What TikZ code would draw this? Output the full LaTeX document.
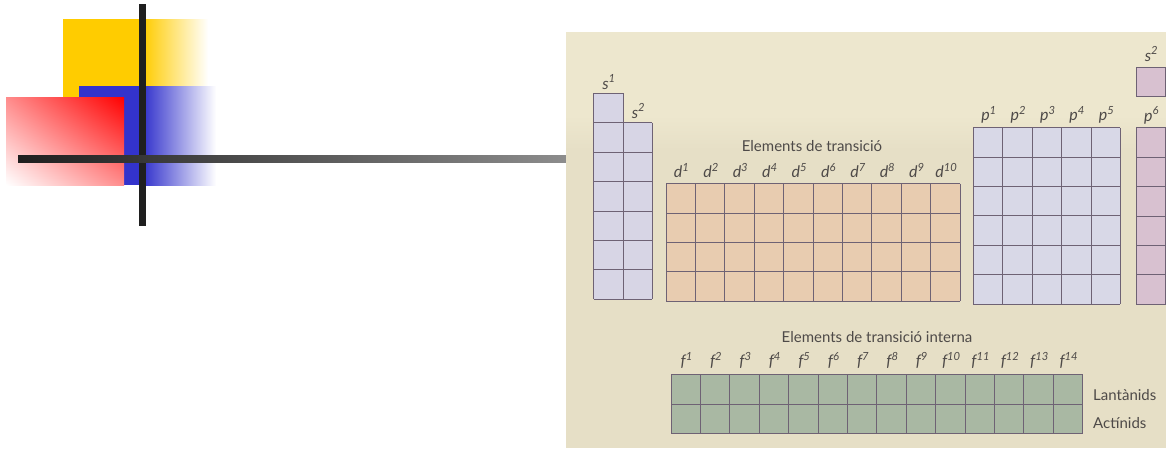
\documentclass[tikz,border=0pt]{standalone}
\usepackage{fontspec}
\setmainfont{Lato}
\usetikzlibrary{positioning,shadings}
\definecolor{scan}{HTML}{E6DFC6}
\definecolor{scantop}{HTML}{EDE7CE}
\definecolor{sblk}{HTML}{D7D5E5}
\definecolor{dblk}{HTML}{E8CCB0}
\definecolor{pblk}{HTML}{D8D8E7}
\definecolor{fblk}{HTML}{A9B8A3}
\definecolor{hblk}{HTML}{D8C1D0}
\definecolor{gridline}{HTML}{6E6274}
\definecolor{ink}{HTML}{4E4A48}
\definecolor{gold}{HTML}{FFCC00}
\definecolor{royal}{HTML}{3333CC}

\begin{document}
\begin{tikzpicture}[
  x=1pt, y=-1pt,
  cell/.style={draw=gridline, line width=0.7pt},
  sup/.style={text=ink, inner sep=0pt, anchor=base,
              font=\fontsize{16}{17}\selectfont\itshape},
  ttl/.style={text=ink, inner sep=0pt, font=\fontsize{15}{16}\selectfont},
]
\useasboundingbox (0,0) rectangle (1166,448);

% title decoration
\fill[gold] (63,19) rectangle (143,100);
\shade[left color=gold, right color=white] (143,19) rectangle (208,86);
\fill[royal] (79,86) rectangle (143,185);
\shade[left color=royal, right color=white] (143,86) rectangle (216,185);
\shade[upper right=red, lower left=white, upper left=red!45!white,
       lower right=red!45!white] (6,97) rectangle (124,185);
\fill[black!88] (139,4) rectangle (146,226);
\shade[left color=black!88, right color=black!45] (18,155) rectangle (566,162);

% scanned table
\fill[scan] (566,32) rectangle (1166,448);
\fill[scantop] (566,32) rectangle (1166,115);
\shade[top color=scantop, bottom color=scan] (566,115) rectangle (1166,150);
\begin{scope}
\clip (566,32) rectangle (1166,448);
\foreach \x/\y/\c/\r/\col in {593.5/93.3/1/7/sblk, 622.9/122.7/1/6/sblk,
    666/183.5/10/4/dblk, 973.3/127.5/5/6/pblk, 671/374.5/14/2/fblk,
    1136/67/2/1/hblk, 1136/127.7/2/6/hblk} {
  \fill[\col] (\x,\y) rectangle ++(\c*29.4,\r*29.4);
  \foreach \i in {0,...,\c} \draw[cell] (\x+\i*29.4,\y) -- ++(0,\r*29.4);
  \foreach \j in {0,...,\r} \draw[cell] (\x,\y+\j*29.4) -- ++(\c*29.4,0);
}
\end{scope}

% labels
\node[sup] (sa) at (609,89) {s\textsuperscript{1}};
\node[sup] (sb) at (638.5,118) {s\textsuperscript{2}};
\node[sup] (he) at (1151.5,61) {s\textsuperscript{2}};
\foreach \i in {1,...,10}
  \node[sup] (d\i) at ({667+(\i-0.5)*29.4},177.5) {d\textsuperscript{\i}};
\foreach \i in {1,...,5}
  \node[sup] (p\i) at ({974.3+(\i-0.5)*29.4},120.5) {p\textsuperscript{\i}};
\node[sup] (p6) at (1151.5,121) {p\textsuperscript{6}};
\foreach \i in {1,...,14}
  \node[sup] (f\i) at ({672+(\i-0.5)*29.4},366.5) {f\textsuperscript{\i}};

\node[ttl] (tr) at (812,146) {Elements de transició};
\node[ttl] (tri) at (877,337) {Elements de transició interna};
\node[ttl, anchor=west] (lan) at (1093,395) {Lantànids};
\node[ttl, anchor=west] (act) at (1093,423) {Actínids};
\end{tikzpicture}
\end{document}
